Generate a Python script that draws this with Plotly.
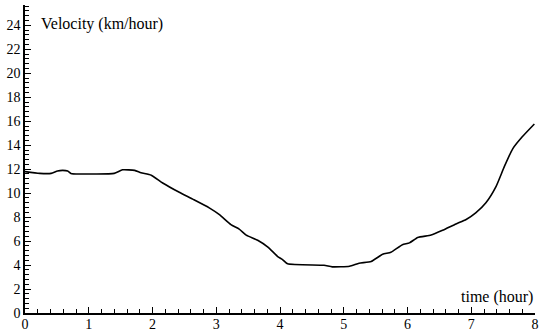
import plotly.graph_objects as go

time_h = [0.0, 0.23, 0.41, 0.51, 0.59, 0.67, 0.72, 0.85, 1.4, 1.53, 1.72, 1.82, 1.98, 2.16, 2.42,
          2.63, 2.89, 3.05, 3.23, 3.36, 3.47, 3.65, 3.81, 3.96, 4.04, 4.12, 4.69, 4.82, 5.09, 5.24,
          5.43, 5.61, 5.74, 5.92, 6.03, 6.16, 6.37, 6.55, 6.76, 6.92, 7.07, 7.23, 7.39, 7.52, 7.65,
          7.80, 7.99]
velocity = [11.8, 11.65, 11.65, 11.85, 11.9, 11.85, 11.65, 11.6, 11.65, 11.95, 11.9, 11.7, 11.5, 10.85, 10.07,
            9.5, 8.77, 8.2, 7.37, 7.0, 6.5, 6.07, 5.5, 4.73, 4.46, 4.1, 3.98, 3.85, 3.9, 4.15,
            4.3, 4.9, 5.07, 5.7, 5.85, 6.3, 6.5, 6.9, 7.43, 7.8, 8.35, 9.2, 10.57, 12.23, 13.7,
            14.7, 15.77]

x_major_step = 1
y_major_step = 2

FONT = "Liberation Serif, DejaVu Serif, serif"

fig = go.Figure()
fig.add_trace(go.Scatter(x=time_h, y=velocity, mode="lines",
                         line=dict(color="black", width=1.6, shape="spline", smoothing=0.5),
                         showlegend=False, hoverinfo="skip"))

fig.update_layout(
    width=540, height=331,
    margin=dict(l=25, r=5, t=5, b=18),
    plot_bgcolor="white", paper_bgcolor="white",
    font=dict(family=FONT, size=14, color="black"),
    xaxis=dict(range=[0, 8], tickmode="linear", tick0=0, dtick=x_major_step,
               showgrid=False, zeroline=False, automargin=False,
               showline=True, linecolor="black", linewidth=1.5,
               ticks="inside", ticklen=6, tickwidth=1, tickcolor="black",
               ticklabelstandoff=-3,
               minor=dict(tick0=0, dtick=0.2, ticks="inside", ticklen=4, tickwidth=1,
                          tickcolor="black", showgrid=False),
               tickfont=dict(family=FONT, size=14)),
    yaxis=dict(range=[0, 25.7], tickmode="linear", tick0=0, dtick=y_major_step,
               showgrid=False, zeroline=False, automargin=False,
               showline=True, linecolor="black", linewidth=1.5,
               ticks="inside", ticklen=6, tickwidth=1, tickcolor="black",
               minor=dict(tick0=0, dtick=0.4, ticks="inside", ticklen=4, tickwidth=1,
                          tickcolor="black", showgrid=False),
               tickfont=dict(family=FONT, size=14)),
    annotations=[
        dict(text="Velocity (km/hour)", x=0.22, y=24.1, xref="x", yref="y",
             xanchor="left", yanchor="middle", showarrow=False,
             font=dict(family=FONT, size=16)),
        dict(text="time (hour)", x=8.0, y=1.35, xref="x", yref="y",
             xanchor="right", yanchor="middle", showarrow=False,
             font=dict(family=FONT, size=16)),
    ],
)

fig.write_html("out.html")
